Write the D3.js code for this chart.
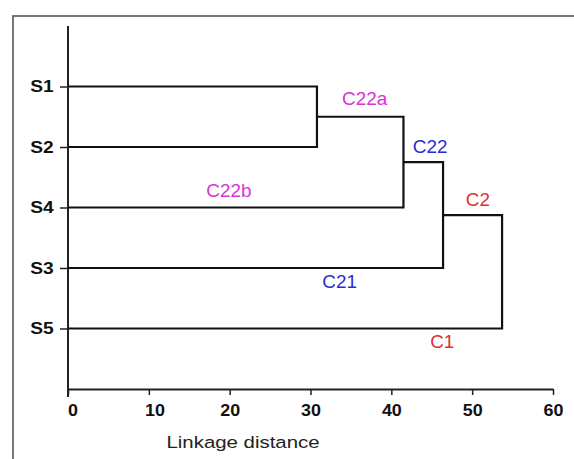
<!DOCTYPE html>
<html>
<head>
<meta charset="utf-8">
<script src="https://cdn.jsdelivr.net/npm/d3@7"></script>
<style>
  body { margin: 0; background: #fff; }
  text { font-family: "Liberation Sans", Arial, sans-serif; }
</style>
</head>
<body>
<div id="chart"></div>
<script>
// samples in the order they are drawn, top to bottom
var samples = ["S1", "S2", "S4", "S3", "S5"];

// merge steps: rows joined and linkage distance of the join
var mergeLeft = ["S1", "m0", "m1", "m2"];
var mergeRight = ["S2", "S4", "S3", "S5"];
var mergeDist = [30.8, 41.5, 46.4, 53.7];

// cluster names, colours and where they sit (distance, row)
var clusterNames = ["C22a", "C22b", "C22", "C21", "C2", "C1"];
var clusterColors = ["#d633d6", "#d633d6", "#2b2bd6", "#2b2bd6", "#e0302f", "#e0302f"];
var clusterDist = [36.7, 19.9, 44.8, 33.6, 50.7, 46.3];
var clusterRow = [0.3, 1.82, 1.1, 3.33, 1.98, 4.32];

var xTicks = [0, 10, 20, 30, 40, 50, 60];

var width = 574, height = 459;

var svg = d3.select("#chart")
    .append("svg")
    .attr("width", width)
    .attr("height", height);

// outer frame (right and bottom edges run off the picture)
svg.append("rect")
    .attr("x", 13)
    .attr("y", 16)
    .attr("width", width + 20)
    .attr("height", height + 20)
    .attr("fill", "none")
    .attr("stroke", "#555")
    .attr("stroke-width", 1.6);

var x = d3.scaleLinear().domain([0, 60]).range([68, 553]);
// rows: -1 is the top of the axis, 5 is the x axis
var y = d3.scaleLinear().domain([-1, 5]).range([26, 389]);

// X axis
var xAxis = svg.append("g")
    .attr("transform", "translate(0," + y(5) + ")")
    .call(d3.axisBottom(x).tickValues(xTicks).tickSize(6).tickSizeOuter(0));
xAxis.select(".domain").attr("stroke", "#222").attr("stroke-width", 2);
xAxis.selectAll(".tick line").attr("stroke", "#222").attr("stroke-width", 1.5);
xAxis.selectAll(".tick text")
    .attr("font-size", 16)
    .attr("font-weight", "bold")
    .attr("fill", "#111")
    .attr("dy", "1.1em")
    .attr("dx", function(d) { return d == 0 ? 4 : (d == 10 ? 5 : 0); })
    .attr("transform", "scale(1.12,1)");

// Y axis
var yAxis = svg.append("g")
    .attr("transform", "translate(" + x(0) + ",0)")
    .call(d3.axisLeft(y).tickValues(d3.range(samples.length)).tickSize(8)
        .tickSizeOuter(0)
        .tickFormat(function(i) { return samples[i]; }));
yAxis.select(".domain").remove();
yAxis.selectAll(".tick line").attr("stroke", "#222").attr("stroke-width", 1.5);
yAxis.selectAll(".tick text")
    .attr("font-size", 16)
    .attr("font-weight", "bold")
    .attr("fill", "#111")
    .attr("x", -12)
    .attr("transform", "scale(1.2,1)");
svg.append("line")
    .attr("x1", x(0)).attr("x2", x(0))
    .attr("y1", y(-1)).attr("y2", y(5) + 8)
    .attr("stroke", "#222")
    .attr("stroke-width", 2);

// dendrogram: each node has a row position and a distance
var nodes = {};
samples.forEach(function(s, i) { nodes[s] = { row: i, dist: 0 }; });
mergeDist.forEach(function(d, i) {
    var a = nodes[mergeLeft[i]], b = nodes[mergeRight[i]];
    var path = d3.path();
    path.moveTo(x(a.dist), y(a.row));
    path.lineTo(x(d), y(a.row));
    path.lineTo(x(d), y(b.row));
    path.lineTo(x(b.dist), y(b.row));
    svg.append("path")
        .attr("d", path.toString())
        .attr("fill", "none")
        .attr("stroke", "#111")
        .attr("stroke-width", 2.2);
    nodes["m" + i] = { row: (a.row + b.row) / 2, dist: d };
});

// cluster labels
svg.selectAll(".clabel")
    .data(clusterNames)
    .enter().append("text")
    .attr("class", "clabel")
    .attr("transform", function(d, i) {
        return "translate(" + x(clusterDist[i]) + "," + y(clusterRow[i]) + ") scale(1.05,1)";
    })
    .attr("text-anchor", "middle")
    .attr("font-size", 18)
    .attr("fill", function(d, i) { return clusterColors[i]; })
    .text(function(d) { return d; });

// axis title
svg.append("text")
    .attr("transform", "translate(243,448) scale(1.2,1)")
    .attr("text-anchor", "middle")
    .attr("font-size", 17)
    .attr("fill", "#222")
    .text("Linkage distance");
</script>
</body>
</html>
